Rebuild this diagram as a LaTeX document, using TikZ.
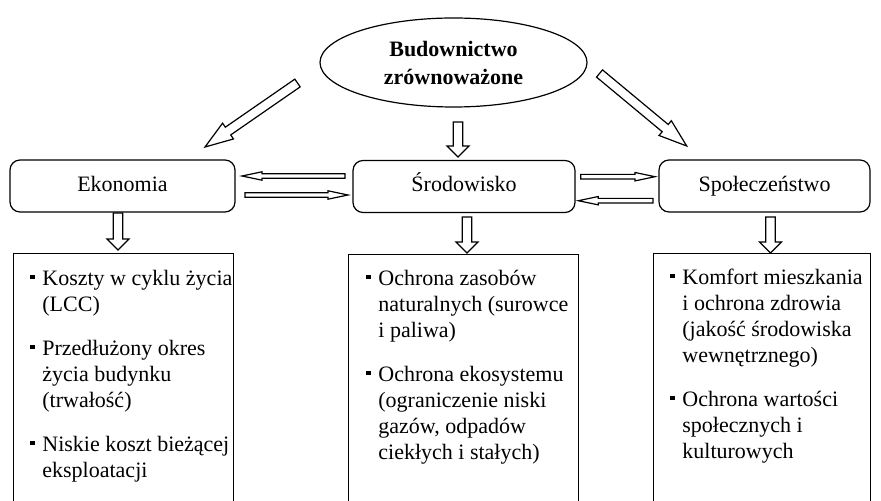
\documentclass[tikz,border=0pt]{standalone}
\usepackage{fontspec}
\setmainfont{Liberation Serif}
\usetikzlibrary{shapes.geometric,calc,positioning}

\newcommand{\sqbullet}{\rule[3.3pt]{2.2pt}{2.2pt}}

\begin{document}
\begin{tikzpicture}
[x=0.5pt,y=-0.5pt,
  textFont/.style={font=\fontsize{11}{13}\selectfont},
  topDecorate/.style={shape=ellipse,draw,line width=0.6pt,inner sep=0pt,
    minimum width=133.5pt,minimum height=44.5pt,align=center,
    font=\bfseries\fontsize{11}{14}\selectfont},
  boxDecorate/.style={draw,line width=0.6pt,rounded corners=5pt,
    minimum height=26pt,text height=7.5pt,text depth=2.2pt,textFont},
  listDecorate/.style={draw,line width=0.6pt,anchor=north west,minimum height=130pt},
  listText/.style={inner sep=0pt,textFont},
  hollow/.style n args={3}{draw,fill=white,line width=0.6pt,line join=miter,
    to path={let \p1=(\tikztostart), \p2=(\tikztotarget),
      \n1={atan2(\y2-\y1,\x2-\x1)} in
      ($(\p1)+(\n1+90:#1)$) -- ($(\p2)!#3!(\p1)+(\n1+90:#1)$)
      -- ($(\p2)!#3!(\p1)+(\n1+90:#2)$) -- (\p2)
      -- ($(\p2)!#3!(\p1)+(\n1-90:#2)$) -- ($(\p2)!#3!(\p1)+(\n1-90:#1)$)
      -- ($(\p1)+(\n1-90:#1)$) -- cycle}},
  sideArrow/.style={hollow={1.15pt}{2.1pt}{10pt}},
  downArrow/.style={hollow={2.4pt}{5.5pt}{5.5pt}},
  diagArrow/.style={hollow={2.35pt}{4.8pt}{14pt}}]
\path[use as bounding box] (0,0) rectangle (881,501);
\clip (0,0) rectangle (881,501);

%% top and the three fields
\node[topDecorate] (top) at (453.5,62.5) {Budownictwo\\zrównoważone};
\node[boxDecorate,minimum width=112.5pt] (eko) at (122.5,186) {Ekonomia};
\node[boxDecorate,minimum width=111pt] (sro) at (464,186.5) {Środowisko};
\node[boxDecorate,minimum width=105.5pt] (spo) at (764.5,186) {Społeczeństwo};

%% lists
\node[listDecorate,minimum width=110pt] (ekolist) at (13,253) {};
\node[listDecorate,minimum width=115pt] (srolist) at (348,254) {};
\node[listDecorate,minimum width=108.5pt] (spolist) at (653,253) {};

\node[listText,below right=7.1pt and 8.5pt of ekolist.north west] (ekotext) {%
  \begin{tabular}{@{}l@{\hspace{3.8pt}}l@{}}
    \sqbullet & Koszty w cyklu życia\\
              & (LCC)\\[9pt]
    \sqbullet & Przedłużony okres\\
              & życia budynku\\
              & (trwałość)\\[9pt]
    \sqbullet & Niskie koszt bieżącej\\
              & eksploatacji
  \end{tabular}};
\node[listText,below right=6.6pt and 9pt of srolist.north west] (srotext) {%
  \begin{tabular}{@{}l@{\hspace{3.8pt}}l@{}}
    \sqbullet & Ochrona zasobów\\
              & naturalnych (surowce\\
              & i paliwa)\\[9pt]
    \sqbullet & Ochrona ekosystemu\\
              & (ograniczenie niski\\
              & gazów, odpadów\\
              & ciekłych i stałych)
  \end{tabular}};
\node[listText,below right=6.6pt and 8.5pt of spolist.north west] (spotext) {%
  \begin{tabular}{@{}l@{\hspace{3.8pt}}l@{}}
    \sqbullet & Komfort mieszkania\\
              & i ochrona zdrowia\\
              & (jakość środowiska\\
              & wewnętrznego)\\[9pt]
    \sqbullet & Ochrona wartości\\
              & społecznych i\\
              & kulturowych
  \end{tabular}};

%% arrow ends
\foreach \name/\x/\y in {
  a1/297.5/83, a2/205/147, b1/599.5/73.5, b2/686.7/146,
  c1/458/122, c2/458/157,
  e1/118/213, e2/118/250, s1/467/217, s2/467/253, p1/770.5/217, p2/770.5/253,
  f1/345/176, f2/242/176, g1/245/195, g2/348/195,
  h1/580.7/176.7, h2/655/176.7, k1/653/200.7, k2/578.3/200.7}
{
  \coordinate (\name) at (\x,\y);
}
%% arrows
\foreach \startnode/\endnode/\kind in {
  a1/a2/diagArrow, b1/b2/diagArrow,
  c1/c2/downArrow, e1/e2/downArrow, s1/s2/downArrow, p1/p2/downArrow,
  f1/f2/sideArrow, g1/g2/sideArrow, h1/h2/sideArrow, k1/k2/sideArrow}
{
  \draw[\kind] (\startnode) to (\endnode);
}
\end{tikzpicture}
\end{document}
